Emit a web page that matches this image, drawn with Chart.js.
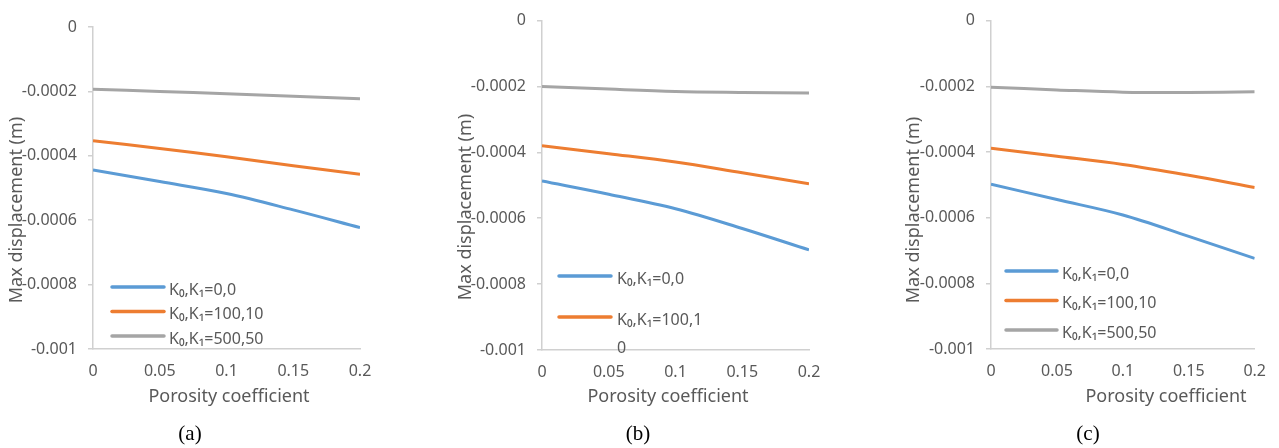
<!DOCTYPE html>
<html><head><meta charset="utf-8">
<script src="https://cdn.jsdelivr.net/npm/chart.js@4.4.1/dist/chart.umd.min.js"></script>
<style>
html,body{margin:0;padding:0;background:#fff;}
#wrap{position:relative;width:1279px;height:448px;overflow:hidden;background:#fff;}
canvas{position:absolute;top:0;}
.cap{position:absolute;top:433px;font-family:"Liberation Serif","Times New Roman",serif;font-size:21px;color:#000;transform:translate(-50%,-50%);white-space:nowrap;}
</style></head><body>
<div id="wrap">
<canvas id="ca" width="430" height="448" style="left:0px"></canvas>
<canvas id="cb" width="430" height="448" style="left:430px"></canvas>
<canvas id="cc" width="419" height="448" style="left:860px"></canvas>
<div class="cap" style="left:190px">(a)</div>
<div class="cap" style="left:638px">(b)</div>
<div class="cap" style="left:1088px">(c)</div>
</div>
<script>
// ---- data ----
const porosity = [0, 0.05, 0.1, 0.15, 0.2];
const xTicks = [0, 0.05, 0.1, 0.15, 0.2];
const xTickLabels = ['0', '0.05', '0.1', '0.15', '0.2'];
const yTicks = [0, -0.0002, -0.0004, -0.0006, -0.0008, -0.001];
const yTickLabels = ['0', '-0.0002', '-0.0004', '-0.0006', '-0.0008', '-0.001'];
const seriesNames = ['K₀,K₁=0,0', 'K₀,K₁=100,10', 'K₀,K₁=500,50'];
const xTitle = 'Porosity coefficient';
const yTitle = 'Max displacement (m)';

const a_k0_0 = [-0.000444, -0.000480, -0.000517, -0.000568, -0.000623];
const a_k0_100 = [-0.000353, -0.000377, -0.000403, -0.000431, -0.000457];
const a_k0_500 = [-0.000193, -0.000200, -0.000207, -0.000215, -0.000223];

const b_k0_0 = [-0.000487, -0.000527, -0.000571, -0.000631, -0.000696];
const b_k0_100 = [-0.000380, -0.000404, -0.000429, -0.000462, -0.000495];
const b_k0_500 = [-0.000200, -0.000208, -0.000215, -0.000218, -0.000220];

const c_k0_0 = [-0.000498, -0.000545, -0.000592, -0.000657, -0.000724];
const c_k0_100 = [-0.000389, -0.000413, -0.000438, -0.000471, -0.000508];
const c_k0_500 = [-0.000203, -0.000211, -0.000218, -0.000219, -0.000217];

// legend texts shown in each panel (panel b shows a wrapped, truncated legend)
const legendA = [[seriesNames[0]], [seriesNames[1]], [seriesNames[2]]];
const legendB = [[seriesNames[0]], ['K₀,K₁=100,1', '0']];
const legendC = [[seriesNames[0]], [seriesNames[1]], [seriesNames[2]]];

// ---- styling ----
const colors = ['#5B9BD5', '#ED7D31', '#A5A5A5'];
const textColor = '#595959';
const axisColor = '#D0D0D0';
const FONT = '"Noto Sans", "Open Sans", sans-serif';

const panelPlugin = {
  id: 'panelDecor',
  afterDraw(chart, args, opts) {
    const ctx = chart.ctx;
    ctx.save();
    ctx.fillStyle = textColor;
    ctx.font = '18px ' + FONT;
    ctx.textAlign = 'center';
    ctx.textBaseline = 'middle';
    ctx.fillText(xTitle, opts.xTitle[0], opts.xTitle[1]);
    ctx.save();
    ctx.translate(opts.yTitle[0], opts.yTitle[1]);
    ctx.rotate(-Math.PI / 2);
    ctx.fillText(yTitle, 0, 0);
    ctx.restore();
    const L = opts.legend;
    ctx.font = '16px ' + FONT;
    ctx.textAlign = 'left';
    L.items.forEach((lines, i) => {
      const ds = chart.data.datasets[i];
      const y = L.rows[i];
      ctx.strokeStyle = ds.borderColor;
      ctx.lineWidth = 3.5;
      ctx.lineCap = 'round';
      ctx.beginPath();
      ctx.moveTo(L.x1, y);
      ctx.lineTo(L.x2, y);
      ctx.stroke();
      ctx.fillStyle = textColor;
      lines.forEach((t, k) => ctx.fillText(t, L.tx, y + L.dy + k * L.lh));
    });
    ctx.restore();
  }
};

function makeChart(id, series, lay) {
  const datasets = series.map((vals, i) => ({
    label: seriesNames[i],
    data: porosity.map((x, j) => ({ x: x, y: vals[j] })),
    borderColor: colors[i],
    backgroundColor: colors[i],
    borderWidth: 3,
    pointRadius: 0,
    tension: 0.35,
    fill: false
  }));
  return new Chart(document.getElementById(id), {
    type: 'line',
    data: { datasets },
    plugins: [panelPlugin],
    options: {
      responsive: false,
      animation: false,
      devicePixelRatio: 1,
      layout: { padding: { left: 0, top: lay.top, right: lay.right, bottom: lay.bottom } },
      plugins: {
        legend: { display: false },
        tooltip: { enabled: false },
        panelDecor: { xTitle: lay.xTitle, yTitle: lay.yTitle, legend: lay.legend }
      },
      scales: {
        x: {
          type: 'linear', min: 0, max: 0.2,
          afterFit(s) { s.height = 40; },
          afterBuildTicks(s) { s.ticks = xTicks.map(v => ({ value: v })); },
          ticks: {
            color: textColor, font: { family: FONT, size: 16 }, padding: 13,
            callback: (v) => xTickLabels[xTicks.findIndex(t => Math.abs(t - v) < 1e-9)]
          },
          grid: { display: true, drawOnChartArea: false, drawTicks: false, color: axisColor },
          border: { display: true, color: axisColor, width: 1.5 }
        },
        y: {
          type: 'linear', min: -0.001, max: 0,
          afterFit(s) { s.width = lay.left; },
          afterBuildTicks(s) { s.ticks = yTicks.map(v => ({ value: v })); },
          ticks: {
            color: textColor, font: { family: FONT, size: 16 }, padding: 11,
            callback: (v) => yTickLabels[yTicks.findIndex(t => Math.abs(t - v) < 1e-12)]
          },
          grid: { display: true, drawOnChartArea: false, drawTicks: true, tickLength: 5, color: axisColor, lineWidth: 1.5 },
          border: { display: true, color: axisColor, width: 1.5 }
        }
      }
    }
  });
}

makeChart('ca', [a_k0_0, a_k0_100, a_k0_500], {
  left: 93, top: 27, right: 70, bottom: 448 - 40 - 349,
  xTitle: [229, 397], yTitle: [17, 210],
  legend: { items: legendA, rows: [287, 311.5, 336], x1: 112, x2: 164, tx: 169, dy: 3, lh: 28 }
});
makeChart('cb', [b_k0_0, b_k0_100, b_k0_500], {
  left: 112, top: 19, right: 51, bottom: 448 - 40 - 350,
  xTitle: [238, 397], yTitle: [36, 207],
  legend: { items: legendB, rows: [276, 317], x1: 129, x2: 181, tx: 187, dy: 3, lh: 28 }
});
makeChart('cc', [c_k0_0, c_k0_100, c_k0_500], {
  left: 131, top: 17, right: 21, bottom: 448 - 40 - 349,
  xTitle: [306, 397], yTitle: [54, 210],
  legend: { items: legendC, rows: [271, 300.5, 330], x1: 146, x2: 197, tx: 202, dy: 3, lh: 28 }
});
</script>
</body></html>
